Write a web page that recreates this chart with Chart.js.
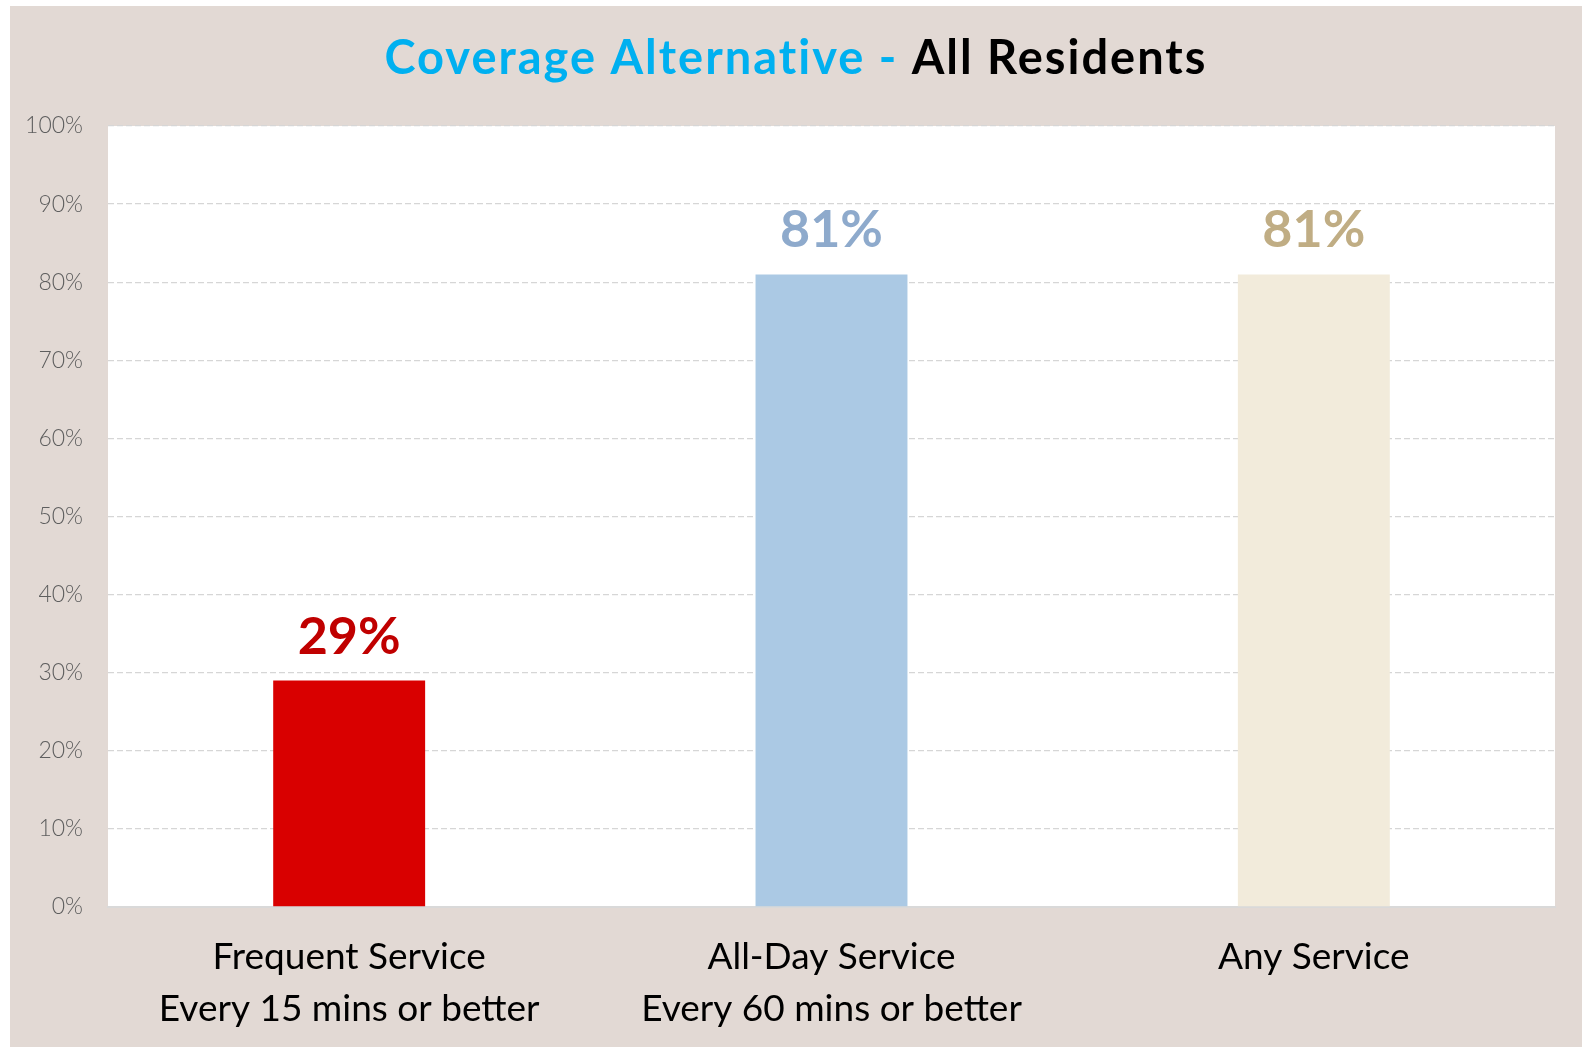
<!DOCTYPE html>
<html>
<head>
<meta charset="utf-8">
<script src="https://cdn.jsdelivr.net/npm/chart.js@4.4.1/dist/chart.umd.min.js"></script>
<style>
  html, body { margin: 0; padding: 0; background: #ffffff; }
  #frame {
    position: absolute; left: 10px; top: 6px;
    width: 1572px; height: 1041px;
    background: #E2D9D4;
  }
</style>
</head>
<body>
<div id="frame"><canvas id="chart"></canvas></div>
<script>
// Share of residents covered under each service level
const categories = [
  ['Frequent Service', 'Every 15 mins or better'],
  ['All-Day Service', 'Every 60 mins or better'],
  ['Any Service']
];
const coverage = [29, 81, 81];
const barColors = ['#D90000', '#ABC9E4', '#F2EBDB'];
const valueColors = ['#C00000', '#8EAACC', '#C0AD84'];
const titleParts = [
  { text: 'Coverage Alternative - ', color: '#00B0F0' },
  { text: 'All Residents', color: '#000000' }
];

const FONT = 'Lato, "Open Sans", sans-serif';

// White plot panel behind the bars
const plotBackground = {
  id: 'plotBackground',
  beforeDraw(chart) {
    const { ctx, chartArea: a } = chart;
    ctx.save();
    ctx.fillStyle = '#ffffff';
    ctx.fillRect(a.left, a.top, a.right - a.left, a.bottom - a.top);
    ctx.restore();
  }
};

// Two-colour heading centred over the canvas
const richTitle = {
  id: 'richTitle',
  afterDraw(chart) {
    const ctx = chart.ctx;
    ctx.save();
    ctx.font = `700 47px ${FONT}`;
    ctx.letterSpacing = '2px';
    ctx.textBaseline = 'middle';
    ctx.textAlign = 'left';
    const total = titleParts.reduce((s, p) => s + ctx.measureText(p.text).width, 0);
    let x = chart.width / 2 - total / 2;
    const y = 53;
    titleParts.forEach(p => {
      ctx.fillStyle = p.color;
      ctx.fillText(p.text, x, y);
      x += ctx.measureText(p.text).width;
    });
    ctx.restore();
  }
};

// Percentage printed above each bar
const valueLabels = {
  id: 'valueLabels',
  afterDatasetsDraw(chart) {
    const ctx = chart.ctx;
    const meta = chart.getDatasetMeta(0);
    const values = chart.data.datasets[0].data;
    ctx.save();
    ctx.font = `700 52px ${FONT}`;
    ctx.textAlign = 'center';
    ctx.textBaseline = 'alphabetic';
    meta.data.forEach((bar, i) => {
      ctx.fillStyle = valueColors[i];
      ctx.fillText(values[i] + '%', bar.x, bar.y - 27);
    });
    ctx.restore();
  }
};

new Chart(document.getElementById('chart'), {
  type: 'bar',
  data: {
    labels: categories,
    datasets: [{
      data: coverage,
      backgroundColor: barColors,
      borderWidth: 0,
      categoryPercentage: 1.0,
      barPercentage: 0.315
    }]
  },
  plugins: [plotBackground, richTitle, valueLabels],
  options: {
    responsive: true,
    maintainAspectRatio: false,
    animation: false,
    layout: { padding: { top: 120, right: 27, bottom: 0, left: 0 } },
    plugins: {
      legend: { display: false },
      title: { display: false },
      tooltip: { enabled: false }
    },
    scales: {
      x: {
        grid: { display: false, drawTicks: false },
        border: { display: true, color: '#D9D9D9', width: 2 },
        ticks: {
          color: '#000000',
          font: { family: FONT, size: 37, weight: '400', lineHeight: 1.41 },
          padding: 24,
          maxRotation: 0,
          autoSkip: false
        },
        afterFit(scale) { scale.height = 140; }
      },
      y: {
        min: 0,
        max: 100,
        grid: {
          color: '#D6D6D6',
          lineWidth: 1.3,
          drawTicks: false
        },
        border: { display: false, dash: [6, 3] },
        ticks: {
          stepSize: 10,
          color: '#5E5E5E',
          font: { family: FONT, size: 23, weight: '300' },
          padding: 25,
          callback: v => v + '%'
        },
        afterFit(scale) { scale.width = 98; }
      }
    }
  }
});
</script>
</body>
</html>
